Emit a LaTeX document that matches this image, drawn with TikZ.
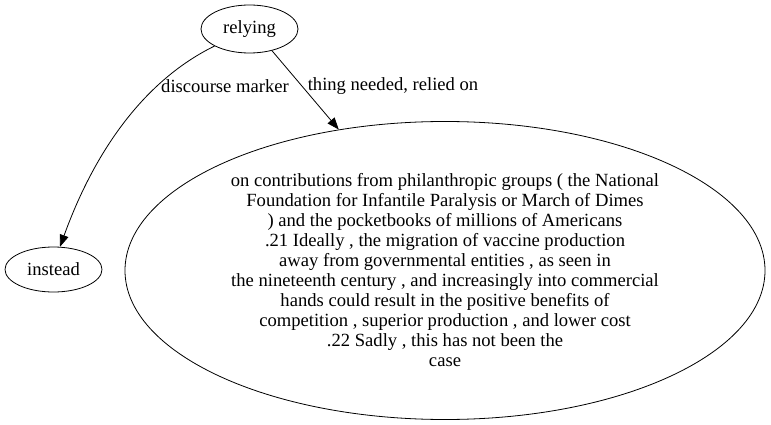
\documentclass[tikz,border=0pt]{standalone}
\usepackage{fontspec}
\setmainfont{Liberation Serif}
\usetikzlibrary{shapes.geometric,arrows.meta}
\begin{document}
\begin{tikzpicture}[x=1pt,y=-1pt,
  every node/.style={font=\fontsize{18.6}{20}\selectfont},
  ell/.style={draw,ellipse,inner sep=0pt,line width=0.8pt},
  lbl/.style={inner sep=0pt},
  edge/.style={line width=0.8pt,-{Triangle[length=12pt,width=9pt]}}]
\useasboundingbox (0,0) rectangle (771,425);
\node[ell,minimum width=97pt,minimum height=48pt] (relying) at (249.5,29) {relying};
\node[ell,minimum width=97pt,minimum height=45pt] (instead) at (53.5,269.5) {instead};
\node[ell,minimum width=640pt,minimum height=298pt,align=center] (big) at (445,270.5)
{on contributions from philanthropic groups ( the National\\
Foundation for Infantile Paralysis or March of Dimes\\
) and the pocketbooks of millions of Americans\\
.21 Ideally , the migration of vaccine production\\
away from governmental entities , as seen in\\
the nineteenth century , and increasingly into commercial\\
hands could result in the positive benefits of\\
competition , superior production , and lower cost\\
.22 Sadly , this has not been the\\
case};
\draw[edge] (relying.206) .. controls (145,80) and (95,150) .. (instead.74);
\draw[edge] (relying.-44) -- (big.127);
\node[lbl] (l1) at (225,86) {discourse marker};
\node[lbl] (l2) at (393,86) {thing needed, relied on};
\end{tikzpicture}
\end{document}
